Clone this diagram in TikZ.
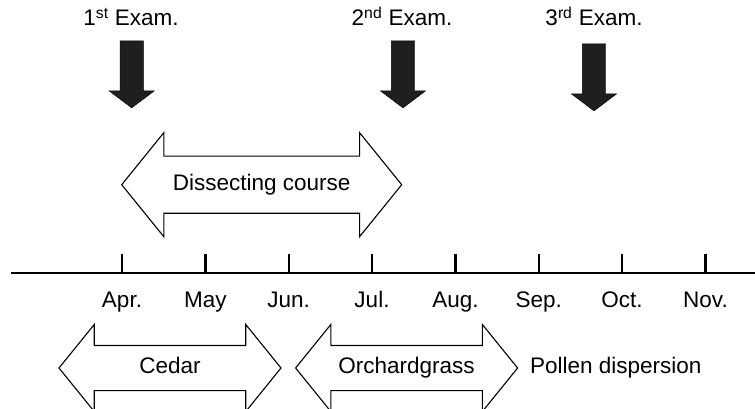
\documentclass[tikz,border=0pt]{standalone}
\usepackage{fontspec}
\setmainfont{Liberation Sans}
\usetikzlibrary{shapes.arrows}

\begin{document}
\begin{tikzpicture}[
    x = 1pt, y = 1pt,
    every node/.style = {font = \fontsize{22.5}{25}\selectfont,
        text height = 16pt, text depth = 4.5pt},
    exam arrow/.style = {
        single arrow, draw = black, fill = black!88,
        shape border rotate = 270,
        text height = 0pt, text depth = 0pt,
        minimum height = 67pt, minimum width = 45pt,
        single arrow head extend = 11pt,
        single arrow tip angle = 106,
        inner xsep = 11.5pt, inner ysep = 0pt
    },
    period/.style = {
        double arrow, draw = black, line width = 1.1pt,
        double arrow tip angle = 102,
        double arrow head indent = 0pt,
        inner xsep = 0pt
    },
    course/.style = {period, inner ysep = 17.75pt,
        double arrow head extend = 23.5pt, minimum height = 280pt},
    pollen/.style = {period, inner ysep = 11.75pt,
        double arrow head extend = 21pt, minimum height = 222pt},
    tick/.style = {line width = 2.4pt}
]

\useasboundingbox (0,0) rectangle (755,408);

% examinations
\node (exam1) at (131,388) {1\textsuperscript{st} Exam.};
\node (exam2) at (402,388) {2\textsuperscript{nd} Exam.};
\node (exam3) at (594,388) {3\textsuperscript{rd} Exam.};
\node[exam arrow] (arrow1) at (131.7,338) {};
\node[exam arrow] (arrow2) at (403,338) {};
\node[exam arrow] (arrow3) at (594,335) {};

% dissecting course
\node[course] (dissect) at (261.7,223.3) {Dissecting course};

% months
\coordinate (start) at (11,135);
\coordinate (end) at (755,135);
\draw[tick] (start) -- (end);

\node (apr) at (122,106) {Apr.};
\node (may) at (205.4,106) {May};
\node (jun) at (288.7,106) {Jun.};
\node (jul) at (372,106) {Jul.};
\node (aug) at (455.4,106) {Aug.};
\node (sep) at (538.8,106) {Sep.};
\node (oct) at (622.1,106) {Oct.};
\node (nov) at (705.5,106) {Nov.};

\draw[tick] (apr |- start) -- ++(0,19);
\draw[tick] (may |- start) -- ++(0,19);
\draw[tick] (jun |- start) -- ++(0,19);
\draw[tick] (jul |- start) -- ++(0,19);
\draw[tick] (aug |- start) -- ++(0,19);
\draw[tick] (sep |- start) -- ++(0,19);
\draw[tick] (oct |- start) -- ++(0,19);
\draw[tick] (nov |- start) -- ++(0,19);

% pollen
\node[pollen] (cedar) at (170,40) {Cedar};
\node[pollen] (orchard) at (406.6,40) {Orchardgrass};
\node[anchor = west, inner sep = 0pt] (dispersion) at (530,40) {Pollen dispersion};

\end{tikzpicture}
\end{document}
